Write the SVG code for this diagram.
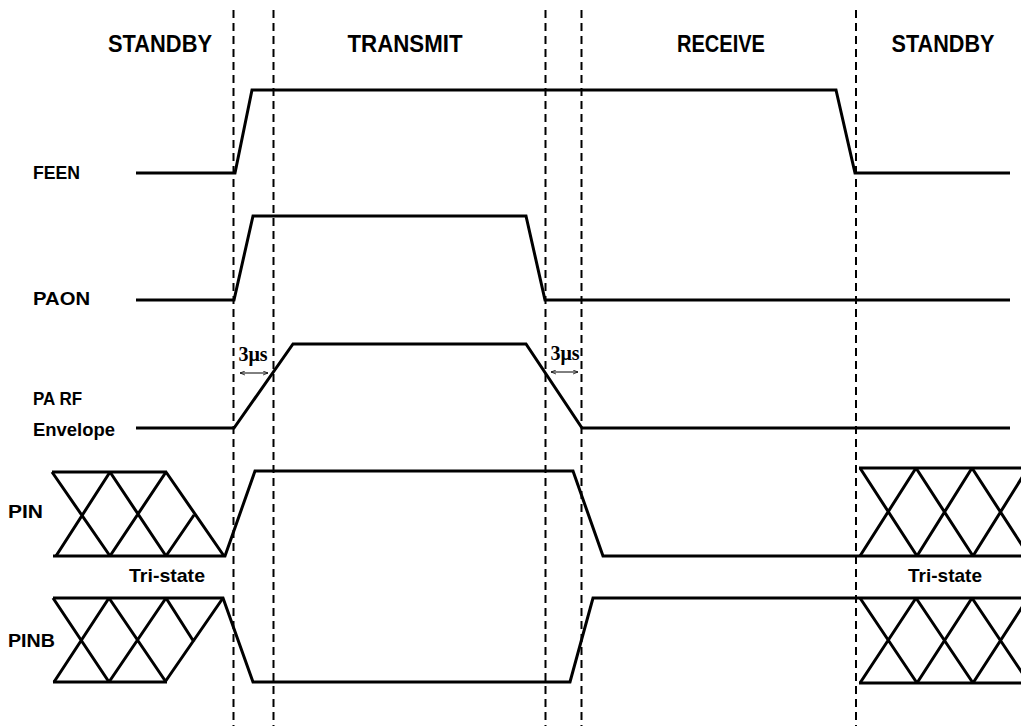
<svg xmlns="http://www.w3.org/2000/svg" width="1021" height="726" viewBox="0 0 1021 726">
<style>
.bg{fill:#fff}
.sig{fill:none;stroke:#000;stroke-width:3;stroke-linejoin:miter}
.hatch{fill:none;stroke:#000;stroke-width:3}
.dash{fill:none;stroke:#000;stroke-width:2;stroke-dasharray:8,5}
.hdr{font-family:"Liberation Sans",Arial,sans-serif;font-weight:bold;font-size:23px;fill:#000;text-anchor:middle}
.lbl{font-family:"Liberation Sans",Arial,sans-serif;font-weight:bold;font-size:19px;fill:#000}
.tri{font-family:"Liberation Sans",Arial,sans-serif;font-weight:bold;font-size:19px;fill:#000;text-anchor:middle}
.us{font-family:"Liberation Serif","Times New Roman",serif;font-weight:bold;font-size:20px;fill:#000;text-anchor:middle}
.dim{fill:none;stroke:#000;stroke-width:1;marker-start:url(#ah);marker-end:url(#ah)}
</style>
<defs>
<marker id="ah" viewBox="0 0 10 10" refX="10" refY="5" markerWidth="5" markerHeight="5" orient="auto-start-reverse" markerUnits="userSpaceOnUse">
<path d="M0,1 L10,5 L0,9" fill="none" stroke="#000" stroke-width="1.5"/>
</marker>
<clipPath id="clipR"><rect x="0" y="0" width="1021" height="726"/></clipPath>
</defs>
<rect class="bg" x="0" y="0" width="1021" height="726"/>

<g id="phase-headers">
<text class="hdr" x="160" y="52" textLength="104" lengthAdjust="spacingAndGlyphs">STANDBY</text>
<text class="hdr" x="405" y="52" textLength="115" lengthAdjust="spacingAndGlyphs">TRANSMIT</text>
<text class="hdr" x="721" y="52" textLength="88" lengthAdjust="spacingAndGlyphs">RECEIVE</text>
<text class="hdr" x="943" y="52" textLength="103" lengthAdjust="spacingAndGlyphs">STANDBY</text>
</g>

<g id="boundaries">
<line class="dash" x1="233.5" y1="10" x2="233.5" y2="726"/>
<line class="dash" x1="273.5" y1="10" x2="273.5" y2="726"/>
<line class="dash" x1="545.5" y1="10" x2="545.5" y2="726"/>
<line class="dash" x1="581.5" y1="10" x2="581.5" y2="726"/>
<line class="dash" x1="856" y1="10" x2="856" y2="726"/>
</g>

<g id="labels">
<text class="lbl" x="33" y="179" textLength="47" lengthAdjust="spacingAndGlyphs">FEEN</text>
<text class="lbl" x="33" y="305" textLength="57" lengthAdjust="spacingAndGlyphs">PAON</text>
<text class="lbl" x="33" y="405" textLength="49" lengthAdjust="spacingAndGlyphs">PA RF</text>
<text class="lbl" x="33" y="436" textLength="82" lengthAdjust="spacingAndGlyphs">Envelope</text>
<text class="lbl" x="8" y="518" textLength="35" lengthAdjust="spacingAndGlyphs">PIN</text>
<text class="lbl" x="8" y="647" textLength="47" lengthAdjust="spacingAndGlyphs">PINB</text>
<text class="tri" x="167" y="582" textLength="76" lengthAdjust="spacingAndGlyphs">Tri-state</text>
<text class="tri" x="945" y="582" textLength="74" lengthAdjust="spacingAndGlyphs">Tri-state</text>
</g>

<g id="signals">
<polyline id="feen" class="sig" points="136,173 235,173 252,90 836,90 855,173 1010,173"/>
<polyline id="paon" class="sig" points="136,300 234,300 253,216 526,216 545,300 1010,300"/>
<polyline id="parf" class="sig" points="136,428 234,428 293,344 526,344 582,428 1010,428"/>
<polyline id="pin" class="sig" points="53,556 225,556 255,471 573,471 603,556 1021,556"/>
<polyline id="pinb" class="sig" points="53,598 223,598 253,682 570,682 593,598 1021,598"/>
</g>

<g id="tristate-left">
<line class="hatch" x1="52" y1="472" x2="167" y2="472"/>
<path class="hatch" d="M52,472 L110,556 M110,472 L56,556 M110,472 L166,556 M166,472 L110,556 M166,472 L224,556 M166,556 L194,515"/>
<line class="hatch" x1="53" y1="682" x2="167" y2="682"/>
<path class="hatch" d="M53,598 L109,682 M109,598 L54,682 M109,598 L166,682 M166,598 L109,682 M166,598 L194,642 M223,598 L165,682"/>
</g>

<g id="tristate-right" clip-path="url(#clipR)">
<line class="hatch" x1="859" y1="468" x2="1021" y2="468"/>
<path class="hatch" d="M860,468 L917,556 M916,468 L860,556 M916,468 L973,556 M972,468 L917,556 M972,468 L1029,556 M1028,468 L973,556"/>
<line class="hatch" x1="859" y1="683" x2="1021" y2="683"/>
<path class="hatch" d="M860,598 L917,683 M916,598 L860,683 M916,598 L973,683 M972,598 L917,683 M972,598 L1029,683 M1028,598 L973,683"/>
</g>

<g id="timing">
<text class="us" x="253" y="361">3μs</text>
<line class="dim" x1="240" y1="373" x2="268" y2="373"/>
<text class="us" x="565" y="360">3μs</text>
<line class="dim" x1="551" y1="372" x2="578" y2="372"/>
</g>
</svg>
